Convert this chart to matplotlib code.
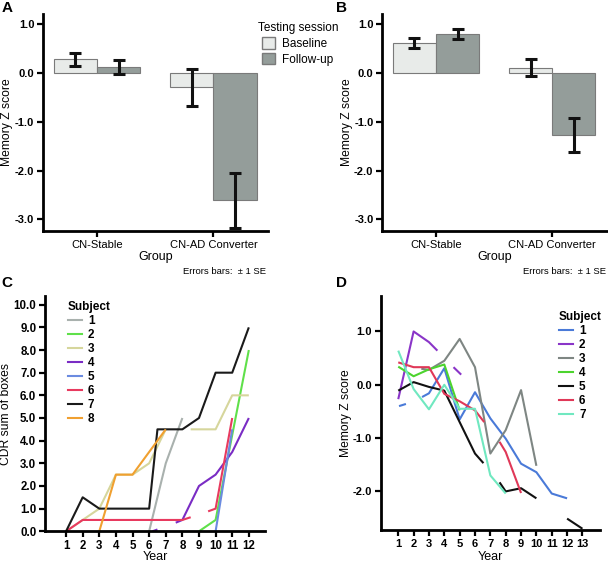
import numpy as np
import matplotlib
matplotlib.use("Agg")
import matplotlib.pyplot as plt
from matplotlib.patches import Patch
from matplotlib.lines import Line2D

plt.rcParams['font.family'] = ['Liberation Sans', 'DejaVu Sans']

# --------- DATA ---------
groups = ["CN-Stable", "CN-AD Converter"]
sessions = ["Baseline", "Follow-up"]

# panel A
a_baseline = [0.28, -0.29]
a_baseline_se = [0.135, 0.38]
a_followup = [0.13, -2.61]
a_followup_se = [0.14, 0.56]

# panel B
b_baseline = [0.62, 0.11]
b_baseline_se = [0.095, 0.17]
b_followup = [0.80, -1.27]
b_followup_se = [0.095, 0.35]

# panel C: CDR sum of boxes per subject (nan = gap in follow-up)
nan = np.nan
cdr_subjects = ["1", "2", "3", "4", "5", "6", "7", "8"]
cdr_years = [
    [6, 7, 8],
    [9, 10, 12],
    [1, 2, 3, 4, 5, 6, 7, 7.5, 8.5, 10, 11, 12],
    [6.2, 6.5, 7.0, 7.6, 8, 9, 10, 11, 12],
    [10, 11],
    [1, 2, 8, 8.5, 9.0, 9.55, 10, 11],
    [1, 2, 3, 6, 6.5, 8, 9, 10, 11, 12],
    [3, 4, 5, 7],
]
cdr_values = [
    [0, 3.0, 5.0],
    [0, 0.5, 8.0],
    [0, 0.5, 1.0, 2.5, 2.5, 3.0, 4.5, nan, 4.5, 4.5, 6.0, 6.0],
    [0.0, 0.08, nan, 0.38, 0.5, 2.0, 2.5, 3.5, 5.0],
    [0, 4.5],
    [0, 0.5, 0.5, 0.62, nan, 0.88, 1.0, 5.0],
    [0, 1.5, 1.0, 1.0, 4.5, 4.5, 5.0, 7.0, 7.0, 9.0],
    [0, 2.5, 2.5, 4.5],
]
cdr_colors = ["#a9b1ae", "#5fe04a", "#d6d69c", "#7a2cc4",
              "#6b8be0", "#e83a5f", "#1a1a1a", "#f0a030"]

# panel D: memory Z score per subject
mem_subjects = ["1", "2", "3", "4", "5", "6", "7"]
mem_years = [
    [1.05, 1.5, 2.0, 2.55, 3, 4, 5, 6, 7, 8, 9, 10, 11, 12],
    [1, 2, 3, 3.55, 4.0, 4.6, 5.1],
    [2.5, 3, 4, 5, 6, 7, 8, 9, 10],
    [1, 2, 3, 4, 5],
    [1, 2, 3, 4, 5, 6, 6.55, 7.0, 7.6, 8, 9, 10, 11, 12, 13],
    [1, 2, 3, 4, 5, 6, 6.6, 7.0, 7.6, 8, 9],
    [1, 2, 3, 4, 5, 6, 7, 8],
]
mem_values = [
    [-0.40, -0.36, nan, -0.23, -0.16, 0.31, -0.65, -0.14, -0.63, -1.01, -1.48, -1.64, -2.04, -2.13],
    [-0.27, 1.0, 0.8, 0.64, nan, 0.33, 0.19],
    [0.30, 0.28, 0.45, 0.86, 0.33, -1.29, -0.85, -0.10, -1.52],
    [0.34, 0.16, 0.29, 0.38, -0.48],
    [-0.11, 0.05, -0.04, -0.11, -0.70, -1.29, -1.47, nan, -1.83, -2.0, -1.94, -2.13, nan, -2.51, -2.70],
    [0.42, 0.33, 0.33, -0.17, -0.31, -0.48, -0.70, nan, -1.07, -1.26, -2.03],
    [0.64, -0.08, -0.46, 0.0, -0.45, -0.45, -1.70, -2.04],
]
mem_colors = ["#4a7ad8", "#8a35c8", "#7e8683", "#4cd42e",
              "#111111", "#e03858", "#70e8c0"]

BASE_COLOR = "#e8ebe9"
FOLLOW_COLOR = "#949d9a"
EDGE_COLOR = "#7a7a7a"


# --------- HELPERS ---------
def style_axes(ax):
    for side in ["top", "right"]:
        ax.spines[side].set_visible(False)
    for side in ["left", "bottom"]:
        ax.spines[side].set_linewidth(2.0)
    ax.tick_params(width=1.6, length=4, direction="out", labelsize=8, pad=2.5)


def bar_panel(ax, base, base_se, follow, follow_se):
    x = np.arange(len(groups))
    w = 0.372
    ax.bar(x - w / 2, base, w, color=BASE_COLOR, edgecolor=EDGE_COLOR, linewidth=0.8)
    ax.bar(x + w / 2, follow, w, color=FOLLOW_COLOR, edgecolor=EDGE_COLOR, linewidth=0.8)
    ax.errorbar(x - w / 2, base, yerr=base_se, fmt="none", ecolor="#111111",
                elinewidth=2.2, capsize=4.5, capthick=2.2)
    ax.errorbar(x + w / 2, follow, yerr=follow_se, fmt="none", ecolor="#111111",
                elinewidth=2.2, capsize=4.5, capthick=2.2)
    ax.set_xlim(-0.46, 1.47)
    ax.set_ylim(-3.23, 1.21)
    ax.set_yticks([1, 0, -1, -2, -3])
    ax.set_yticklabels(["1.0", "0.0", "-1.0", "-2.0", "-3.0"], fontweight="bold")
    ax.set_xticks(x)
    ax.set_xticklabels(groups, fontsize=8)
    ax.set_xlabel("Group", fontsize=9, labelpad=1)
    ax.set_ylabel("Memory Z score", fontsize=8.7, labelpad=1)
    style_axes(ax)


def line_panel(ax, years, values, colors):
    for xs, ys, c in zip(years, values, colors):
        ax.plot(xs, ys, color=c, lw=1.5, clip_on=False, solid_capstyle="butt")


# --------- FIGURE ---------
fig = plt.figure(figsize=(6.08, 5.64), dpi=100)

axA = fig.add_axes([0.0712, 0.591, 0.370, 0.384])
bar_panel(axA, a_baseline, a_baseline_se, a_followup, a_followup_se)

axB = fig.add_axes([0.629, 0.591, 0.369, 0.384])
bar_panel(axB, b_baseline, b_baseline_se, b_followup, b_followup_se)

handles = [Patch(facecolor=BASE_COLOR, edgecolor=EDGE_COLOR, label=sessions[0]),
           Patch(facecolor=FOLLOW_COLOR, edgecolor=EDGE_COLOR, label=sessions[1])]
fig.legend(handles=handles, title="Testing session", loc="upper left",
           bbox_to_anchor=(0.41, 0.975), frameon=False, fontsize=8.5,
           title_fontsize=8.5, handlelength=1.1, handleheight=1.1,
           handletextpad=0.6, labelspacing=0.25, borderpad=0.2)

for x in [0.437, 0.996]:
    fig.text(x, 0.519, "Errors bars:  \u00b1 1 SE", fontsize=6.8, ha="right", va="center")

# panel C
axC = fig.add_axes([0.0745, 0.058, 0.361, 0.417])
line_panel(axC, cdr_years, cdr_values, cdr_colors)
axC.set_xlim(-0.25, 12.96)
axC.set_ylim(0, 10.38)
axC.set_xticks(range(1, 13))
axC.set_yticks(np.arange(0, 11))
axC.set_yticklabels([f"{v:.1f}" for v in range(0, 11)], fontweight="bold")
axC.set_xticklabels([str(v) for v in range(1, 13)], fontweight="bold")
style_axes(axC)
axC.tick_params(labelsize=8.3)
axC.set_xlabel("Year", fontsize=9, labelpad=-1)
axC.set_ylabel("CDR sum of boxes", fontsize=8.7, labelpad=1)
hC = [Line2D([], [], color=c, lw=1.5, label=s) for s, c in zip(cdr_subjects, cdr_colors)]
legC = axC.legend(handles=hC, title="Subject", loc="upper left", bbox_to_anchor=(0.07, 1.01),
                  frameon=False, prop={"size": 8.5, "weight": "bold"}, handlelength=1.2,
                  handletextpad=0.5, labelspacing=0.17, borderpad=0.1)
legC.get_title().set_fontweight("bold")
legC.get_title().set_fontsize(8.5)
legC._legend_box.align = "left"

# panel D
axD = fig.add_axes([0.627, 0.0597, 0.360, 0.415])
line_panel(axD, mem_years, mem_values, mem_colors)
axD.set_xlim(-0.11, 14.15)
axD.set_ylim(-2.73, 1.66)
axD.set_xticks(range(1, 14))
axD.set_xticklabels([str(v) for v in range(1, 14)], fontweight="bold")
axD.set_yticks([1, 0, -1, -2])
axD.set_yticklabels(["1.0", "0.0", "-1.0", "-2.0"], fontweight="bold")
style_axes(axD)
axD.set_xlabel("Year", fontsize=9, labelpad=1)
axD.set_ylabel("Memory Z score", fontsize=8.7, labelpad=0.5)
hD = [Line2D([], [], color=c, lw=1.5, label=s) for s, c in zip(mem_subjects, mem_colors)]
legD = axD.legend(handles=hD, title="Subject", loc="upper left", bbox_to_anchor=(0.78, 0.967),
                  frameon=False, prop={"size": 8.5, "weight": "bold"}, handlelength=1.2,
                  handletextpad=0.5, labelspacing=0.17, borderpad=0.1)
legD.get_title().set_fontweight("bold")
legD.get_title().set_fontsize(8.5)
legD._legend_box.align = "left"

# panel letters
for x, y, t in [(0.003, 0.999, "A"), (0.553, 0.999, "B"), (0.003, 0.511, "C"), (0.553, 0.511, "D")]:
    fig.text(x, y, t, fontsize=11, fontweight="bold", ha="left", va="top")

plt.savefig("out.png", dpi=100)
plt.close()
